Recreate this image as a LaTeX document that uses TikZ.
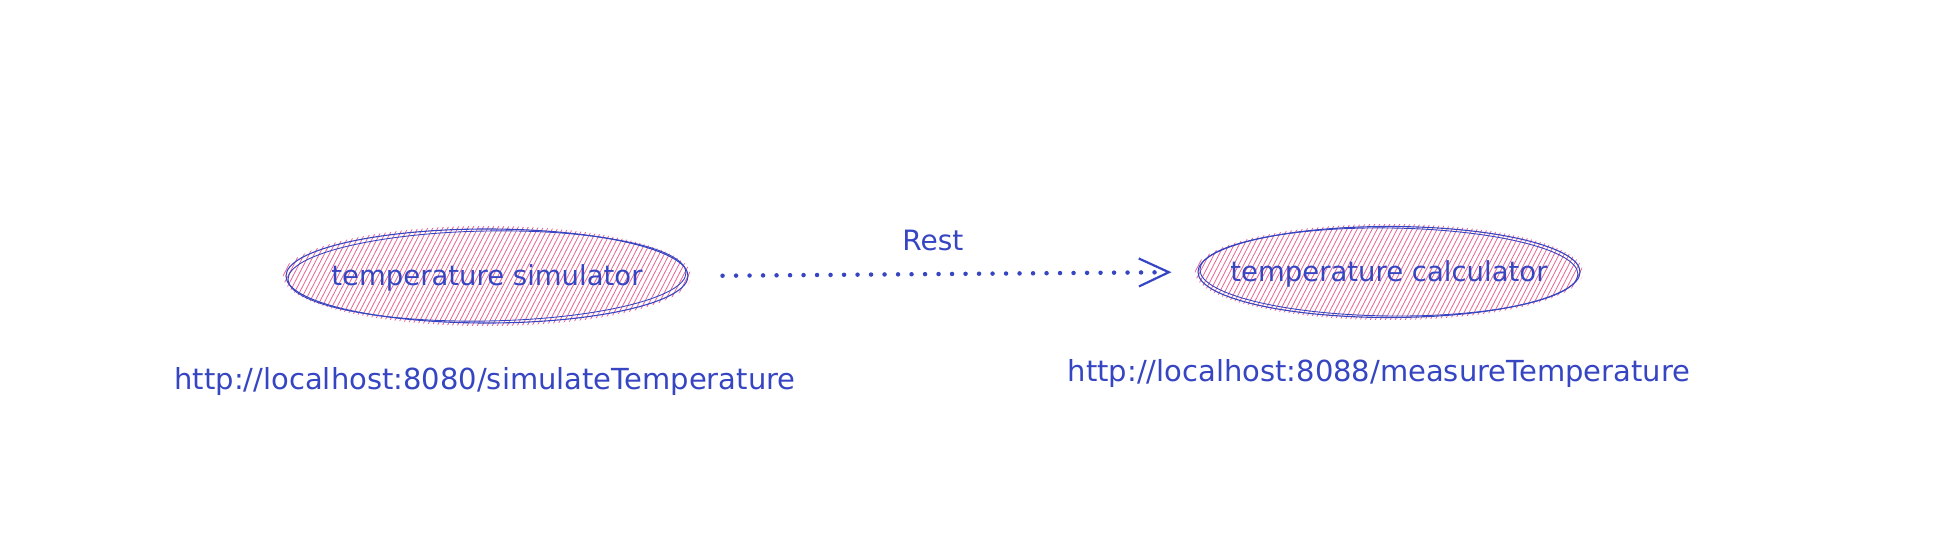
\documentclass[tikz,border=0pt]{standalone}
\usepackage{fontspec}
\setmainfont{DejaVu Sans}
\usetikzlibrary{shapes.geometric, positioning, arrows.meta, backgrounds}

\definecolor{ink}{HTML}{3645C2}
\definecolor{hach}{HTML}{E64980}

\tikzset{
	blob/.style={ellipse, draw=ink, line width=1.1pt, inner sep=0pt},
	blobtext/.style={text=ink, font=\fontsize{27.5}{32}\selectfont},
	url/.style={text=ink, font=\fontsize{29}{34}\selectfont},
	flow/.style={draw=ink, line width=4.5pt, line cap=round, dash pattern=on 0pt off 13.5pt,
		-{Straight Barb[length=30pt, width=28pt, line width=2.2pt]}},
	sketch/.style={draw=ink, line width=0.9pt},
	hatch/.style={draw=hach, line width=0.8pt, opacity=0.85}
}

\begin{document}
\begin{tikzpicture}[x=1pt, y=-1pt]
	\useasboundingbox (0,0) rectangle (1938,556);

	\node[blob, minimum width=402pt, minimum height=94pt,
		label={[blobtext, yshift=-2pt]center:temperature simulator}] (sim) at (487,276) {};
	\node[blob, minimum width=382pt, minimum height=91pt,
		label={[blobtext, yshift=-2pt]center:temperature calculator}] (calc) at (1389,272) {};

	\node[url] (simurl) at (485,381) {http://localhost:8080/simulateTemperature};
	\node[url] (calcurl) at (1379,373) {http://localhost:8088/measureTemperature};

	\draw[flow, shorten <=34pt, shorten >=26pt]
		(sim.east) -- node[above=18pt, pos=0.48, text=ink, font=\fontsize{28}{32}\selectfont] (rest) {Rest} (calc.west);

	% second pencil stroke round each blob
	\draw[sketch, rotate around={1:(sim.center)}] (sim.center) ellipse [x radius=199pt, y radius=45pt];
	\draw[sketch, rotate around={-0.7:(calc.center)}] (calc.center) ellipse [x radius=189pt, y radius=44pt];

	% hachure fill
	\begin{scope}[on background layer]
		\begin{scope}
			\clip (sim.center) ellipse [x radius=204pt, y radius=50pt];
			\foreach \i in {-280,-275,...,220}
				\draw[hatch] ([xshift=\i pt, yshift=-60pt]sim.center) -- ++(62,-120);
		\end{scope}
		\begin{scope}
			\clip (calc.center) ellipse [x radius=194pt, y radius=48pt];
			\foreach \i in {-270,-265,...,210}
				\draw[hatch] ([xshift=\i pt, yshift=-60pt]calc.center) -- ++(62,-120);
		\end{scope}
	\end{scope}
\end{tikzpicture}
\end{document}
